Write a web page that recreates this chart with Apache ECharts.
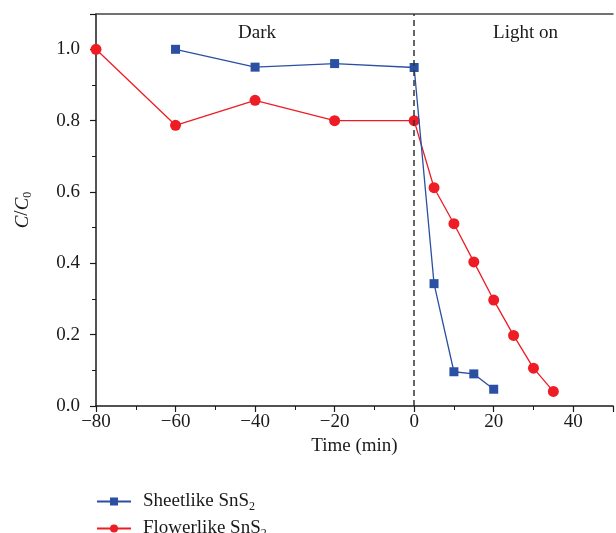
<!DOCTYPE html>
<html><head><meta charset="utf-8">
<script src="https://cdn.jsdelivr.net/npm/echarts@6/dist/echarts.min.js"></script>
<style>html,body{margin:0;padding:0;background:#fff}#c{width:616px;height:533px}</style>
</head><body><div id="c"></div>
<script>
const sheetTime = [-60, -40, -20, 0, 5, 10, 15, 20];
const sheetVals = [1.0, 0.95, 0.96, 0.949, 0.343, 0.096, 0.09, 0.047];
const flowerTime = [-80, -60, -40, -20, 0, 5, 10, 15, 20, 25, 30, 35];
const flowerVals = [1.0, 0.787, 0.857, 0.80, 0.80, 0.612, 0.511, 0.404, 0.297, 0.198, 0.106, 0.041];
const annotations = [{text: 'Dark', x: -39.5, y: 1.045}, {text: 'Light on', x: 28, y: 1.045}];

const font = '"Liberation Serif", "DejaVu Serif", serif';
const chart = echarts.init(document.getElementById('c'));
const axisCol = '#1a1a1a';
const FS = 19;
const fmtX = v => (v < 0 ? '\u2212' + Math.abs(v) : String(v));
const sub = {fontFamily: font, fontSize: 12, color: '#1a1a1a', verticalAlign: 'bottom', padding: [11, 0, 0, 0]};
const legRich = {n: {fontFamily: font, fontSize: FS, color: '#1a1a1a', padding: [0, 0, 0, 7]}, s: sub};
const mkLegend = (name, top) => ({
  orient: 'vertical', left: 91, top: top, itemGap: 0, itemWidth: 34, itemHeight: 10,
  textStyle: {fontFamily: font, fontSize: FS, color: '#1a1a1a', rich: legRich},
  formatter: n => '{n|' + n + ' SnS}{s|2}',
  data: [name]
});

chart.setOption({
  animation: false,
  textStyle: {fontFamily: font},
  grid: {left: 96, right: 0, top: 14, bottom: 127, containLabel: false},
  legend: [mkLegend('Sheetlike', 487), mkLegend('Flowerlike', 514)],
  xAxis: [{
    type: 'value', min: -80, max: 50, interval: 20,
    name: 'Time (min)', nameLocation: 'middle', nameGap: 23,
    nameTextStyle: {fontFamily: font, fontSize: FS, color: '#1a1a1a'},
    axisLine: {onZero: false, lineStyle: {color: axisCol, width: 1.5}},
    axisTick: {inside: false, length: 6, lineStyle: {color: axisCol, width: 1.2}},
    minorTick: {show: true, splitNumber: 2, length: 4, lineStyle: {color: axisCol, width: 1}},
    axisLabel: {fontFamily: font, fontSize: FS, color: '#1a1a1a', margin: 7, formatter: v => v > 40 ? '' : fmtX(v)},
    splitLine: {show: false}
  }, {
    type: 'value', position: 'top', min: -80, max: 50,
    axisLine: {show: true, onZero: false, lineStyle: {color: '#444', width: 1.5}},
    axisTick: {show: false}, axisLabel: {show: false}, splitLine: {show: false}
  }],
  yAxis: {
    type: 'value', min: 0, max: 1.099, interval: 0.2,
    name: '{i|C}{n|/}{i|C}{s|0}', nameLocation: 'middle', nameGap: 62, nameRotate: 90,
    nameTextStyle: {rich: {
      i: {fontFamily: font, fontSize: FS, fontStyle: 'italic', color: '#1a1a1a'},
      n: {fontFamily: font, fontSize: FS, color: '#1a1a1a'},
      s: {fontFamily: font, fontSize: 12, color: '#1a1a1a', verticalAlign: 'bottom', padding: [11, 0, 0, 0]}
    }},
    axisLine: {show: true, onZero: false, lineStyle: {color: axisCol, width: 1.5}},
    axisTick: {inside: false, length: 6, lineStyle: {color: axisCol, width: 1.2}},
    minorTick: {show: true, splitNumber: 2, length: 4, lineStyle: {color: axisCol, width: 1}},
    axisLabel: {fontFamily: font, fontSize: FS, color: '#1a1a1a', margin: 16, formatter: v => v > 1.05 ? '' : v.toFixed(1)},
    splitLine: {show: false}
  },
  series: [{
    name: 'Sheetlike', type: 'line', symbol: 'rect', symbolSize: 9,
    itemStyle: {color: '#2b4fa3'}, lineStyle: {color: '#2b4fa3', width: 1.3},
    data: sheetTime.map((t, i) => [t, sheetVals[i]]), z: 3,
    markLine: {
      silent: true, symbol: 'none', label: {show: false},
      lineStyle: {color: '#333', type: [6, 4], width: 1.5},
      data: [[{coord: [0, 0]}, {coord: [0, 1.099]}]]
    }
  }, {
    name: 'Flowerlike', type: 'line', symbol: 'circle', symbolSize: 11,
    itemStyle: {color: '#ee1c25'}, lineStyle: {color: '#ee1c25', width: 1.3},
    data: flowerTime.map((t, i) => [t, flowerVals[i]]), z: 2,
    markPoint: {
      symbol: 'circle', symbolSize: 0, silent: true,
      label: {show: true, position: 'inside', fontFamily: font, fontSize: FS, color: '#1a1a1a', formatter: p => p.name},
      data: annotations.map(a => ({name: a.text, coord: [a.x, a.y]}))
    }
  }]
});
</script></body></html>
